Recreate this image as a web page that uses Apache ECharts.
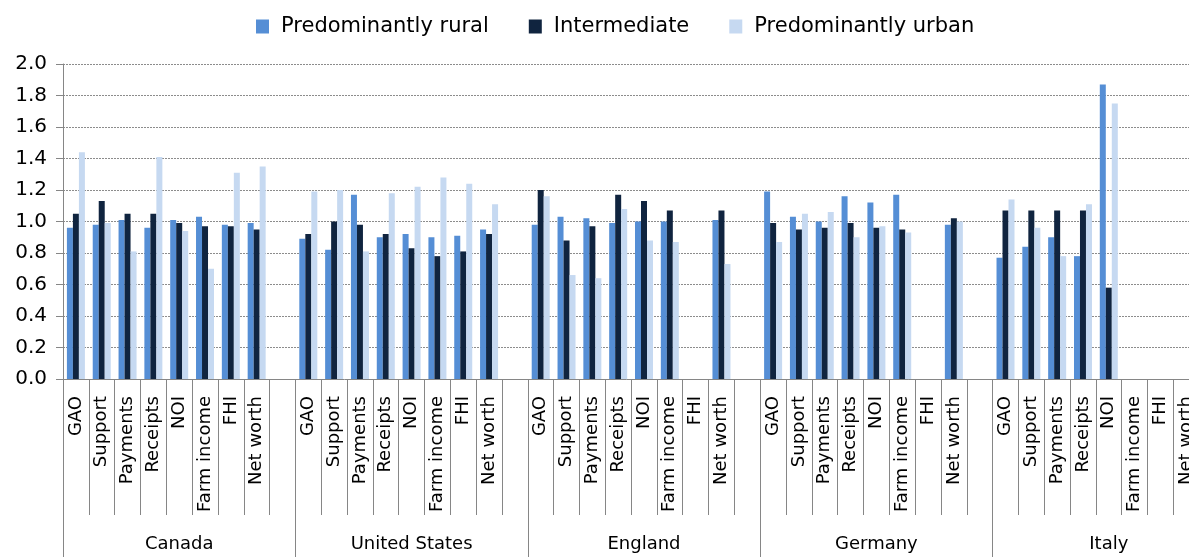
<!DOCTYPE html>
<html>
<head>
<meta charset="utf-8">
<script src="https://cdn.jsdelivr.net/npm/echarts@6/dist/echarts.min.js"></script>
<style>
  html, body { margin: 0; padding: 0; background: #fff; }
  #chart { width: 1189px; height: 557px; }
</style>
</head>
<body>
<div id="chart"></div>
<script>
// countries and the indicators shown for each of them
const countries = ['Canada', 'United States', 'England', 'Germany', 'Italy'];
const metrics = ['GAO', 'Support', 'Payments', 'Receipts', 'NOI', 'Farm income', 'FHI', 'Net worth'];

// one row per country, values in metrics order (null = no bar)
const rural = [
  [0.96, 0.98, 1.01, 0.96, 1.01, 1.03, 0.98, 0.99],
  [0.89, 0.82, 1.17, 0.90, 0.92, 0.90, 0.91, 0.95],
  [0.98, 1.03, 1.02, 0.99, 1.00, 1.00, null, 1.01],
  [1.19, 1.03, 1.00, 1.16, 1.12, 1.17, null, 0.98],
  [0.77, 0.84, 0.90, 0.78, 1.87, null, null, null]
];
const intermediate = [
  [1.05, 1.13, 1.05, 1.05, 0.99, 0.97, 0.97, 0.95],
  [0.92, 1.00, 0.98, 0.92, 0.83, 0.78, 0.81, 0.92],
  [1.20, 0.88, 0.97, 1.17, 1.13, 1.07, null, 1.07],
  [0.99, 0.95, 0.96, 0.99, 0.96, 0.95, null, 1.02],
  [1.07, 1.07, 1.07, 1.07, 0.58, null, null, null]
];
const urban = [
  [1.44, 0.99, 0.81, 1.41, 0.94, 0.70, 1.31, 1.35],
  [1.19, 1.20, 0.81, 1.18, 1.22, 1.28, 1.24, 1.11],
  [1.16, 0.66, 0.64, 1.08, 0.88, 0.87, null, 0.73],
  [0.87, 1.05, 1.06, 0.90, 0.97, 0.93, null, 1.00],
  [1.14, 0.96, 0.78, 1.11, 1.75, null, null, null]
];

const yTicks = { min: 0, max: 2.0, interval: 0.2 };

// each country gets its 8 metrics plus one empty slot
const slotLabels = [];
countries.forEach(() => { slotLabels.push(...metrics, ''); });
const flatten = (rows) => {
  const out = [];
  rows.forEach(r => { out.push(...r, null); });
  return out;
};

const font = '"DejaVu Sans", sans-serif';
const axisGray = '#868686';

const chart = echarts.init(document.getElementById('chart'));
chart.setOption({
  animation: false,
  textStyle: { fontFamily: font },
  legend: {
    top: 11,
    left: 251,
    icon: 'rect',
    itemWidth: 13,
    itemHeight: 14,
    itemGap: 40,
    textStyle: { fontSize: 21, color: '#000', fontFamily: font, padding: [0, 0, 0, 7] },
    data: ['Predominantly rural', 'Intermediate', 'Predominantly urban']
  },
  grid: { left: 63, right: -36, top: 64, bottom: 178, outerBoundsMode: 'none' },
  xAxis: [
    {
      type: 'category',
      data: slotLabels,
      axisLine: { show: true, lineStyle: { color: axisGray, width: 1 } },
      axisTick: { show: true, interval: 0, length: 136, lineStyle: { color: axisGray } },
      axisLabel: {
        interval: 0, rotate: 90, margin: 17,
        fontSize: 18, color: '#000', fontFamily: font
      }
    },
    {
      type: 'category',
      data: countries,
      position: 'bottom',
      axisLine: { show: false },
      axisTick: { show: true, interval: 0, length: 180, lineStyle: { color: axisGray } },
      axisLabel: { interval: 0, margin: 156, fontSize: 18, color: '#000', fontFamily: font }
    }
  ],
  yAxis: {
    type: 'value',
    min: yTicks.min, max: yTicks.max, interval: yTicks.interval,
    axisLine: { show: true, lineStyle: { color: axisGray } },
    axisTick: { show: true, length: 7, lineStyle: { color: axisGray } },
    axisLabel: {
      formatter: v => v.toFixed(1),
      fontSize: 20, color: '#000', margin: 16, fontFamily: font
    },
    splitLine: { lineStyle: { color: '#8c8c8c', type: [2, 1], width: 1 } }
  },
  series: [
    { name: 'Predominantly rural', type: 'bar', xAxisIndex: 0, data: flatten(rural),
      barWidth: 6, barGap: '0%', itemStyle: { color: '#558ED5' } },
    { name: 'Intermediate', type: 'bar', xAxisIndex: 0, data: flatten(intermediate),
      barWidth: 6, barGap: '0%', itemStyle: { color: '#10243F' } },
    { name: 'Predominantly urban', type: 'bar', xAxisIndex: 0, data: flatten(urban),
      barWidth: 6, barGap: '0%', itemStyle: { color: '#C6D9F1' } }
  ]
});
</script>
</body>
</html>
